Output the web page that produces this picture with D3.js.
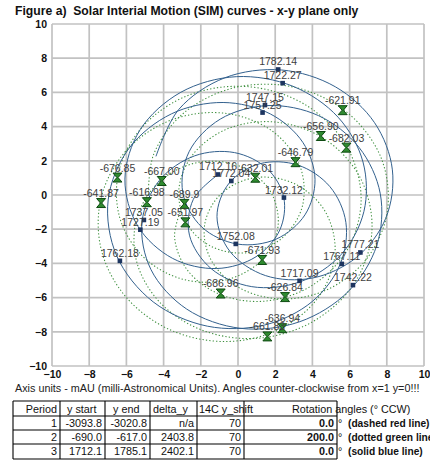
<!DOCTYPE html>
<html>
<head>
<meta charset="utf-8">
<script src="https://cdn.jsdelivr.net/npm/d3@7"></script>
<style>
  body { margin: 0; background: #fff; }
  svg { display: block; }
  text { font-family: "Liberation Sans", Arial, sans-serif; }
</style>
</head>
<body>
<svg id="chart" width="430" height="467"></svg>
<script>
const titleText = "Figure a)  Solar Interial Motion (SIM) curves - x-y plane only";
const noteText = "Axis units - mAU (milli-Astronomical Units). Angles counter-clockwise from x=1 y=0!!!";

const xTicks = [-10, -8, -6, -4, -2, 0, 2, 4, 6, 8, 10];
const yTicks = [-10, -8, -6, -4, -2, 0, 2, 4, 6, 8, 10];

// Period 3 (1712.1 - 1785.1), one position per year, mAU — solid blue line
const blueX = [
  -1.03, -2.40, -2.61, -1.45, 0.74, 3.33, 5.54, 6.77, 6.72, 5.38,
  2.95, -0.09, -3.07, -5.26, -6.08, -5.38, -3.51, -1.14, 0.97, 2.25,
  2.46, 1.57, -0.19, -2.33, -4.22, -5.16, -4.68, -2.76, 0.16, 3.32,
  5.93, 7.46, 7.65, 6.51, 4.33, 1.61, -0.95, -2.63, -2.97, -1.95,
  -0.03, 2.05, 3.60, 4.14, 3.49, 1.74, -0.80, -3.57, -5.86, -6.98,
  -6.52, -4.56, -1.65, 1.44, 3.99, 5.50, 5.80, 4.94, 3.22, 1.18,
  -0.48, -1.13, -0.42, 1.47, 3.99, 6.37, 7.94, 8.30, 7.34, 5.23,
  2.34, -0.72, -3.18, -4.41
];
const blueY = [
  1.23, -0.25, -2.35, -4.30, -5.36, -5.08, -3.49, -0.96, 1.93, 4.55,
  6.36, 6.92, 6.01, 3.82, 0.93, -1.83, -3.71, -4.30, -3.61, -2.04,
  -0.14, 1.54, 2.48, 2.29, 0.86, -1.57, -4.36, -6.67, -7.80, -7.41,
  -5.64, -2.95, 0.07, 2.78, 4.64, 5.23, 4.44, 2.53, 0.15, -1.87,
  -2.87, -2.58, -1.16, 0.92, 3.07, 4.74, 5.41, 4.75, 2.73, -0.29,
  -3.56, -6.25, -7.67, -7.60, -6.23, -4.03, -1.60, 0.49, 1.75, 1.83,
  0.69, -1.26, -3.32, -4.71, -4.86, -3.65, -1.37, 1.47, 4.23, 6.33,
  7.31, 6.85, 5.01, 2.26
];

// Period 2 (-690.0 - -617.0), one position per year, rotated 200° — dotted green line
const greenX = [
  -2.92, -3.41, -2.73, -1.00, 1.40, 3.92, 5.87, 6.62, 5.82, 3.60,
  0.50, -2.65, -5.11, -6.40, -6.36, -5.11, -3.03, -0.69, 1.25, 2.15,
  1.72, 0.10, -2.13, -4.19, -5.43, -5.45, -4.20, -1.89, 1.05, 4.00,
  6.25, 7.20, 6.59, 4.65, 1.99, -0.59, -2.43, -3.18, -2.78, -1.43,
  0.47, 2.31, 3.44, 3.36, 1.90, -0.61, -3.48, -5.93, -7.33, -7.37,
  -6.06, -3.68, -0.69, 2.23, 4.37, 5.22, 4.63, 2.94, 0.83, -0.93,
  -1.79, -1.49, -0.08, 2.15, 4.68, 6.86, 8.02, 7.71, 5.88, 2.99,
  -0.21, -2.91, -4.54, -4.83
];
const greenY = [
  -0.47, -2.41, -4.38, -5.80, -6.21, -5.33, -3.21, -0.22, 2.89, 5.29,
  6.34, 5.84, 4.02, 1.42, -1.32, -3.60, -4.91, -4.98, -3.83, -1.85,
  0.25, 1.68, 1.91, 0.81, -1.31, -3.89, -6.28, -7.92, -8.38, -7.42,
  -5.17, -2.12, 0.97, 3.28, 4.27, 3.86, 2.36, 0.32, -1.64, -3.01,
  -3.38, -2.57, -0.74, 1.60, 3.69, 4.77, 4.43, 2.69, -0.04, -3.12,
  -5.92, -7.87, -8.57, -7.85, -5.91, -3.31, -0.86, 0.71, 1.00, 0.05,
  -1.72, -3.71, -5.33, -6.07, -5.59, -3.81, -1.03, 2.13, 4.82, 6.31,
  6.27, 4.80, 2.36, -0.41
];

// Dated points along each curve
const blueMarkLabels = ["1712.16", "1717.09", "1722.27", "1727.19", "1732.12", "1737.05", "1742.22",
  "1747.15", "1752.08", "1757.25", "1762.18", "1767.11", "1772.04", "1777.21", "1782.14"];
const blueMarkX = [-1.07, 3.31, 2.40, -5.25, 2.47, -5.06, 6.18, 1.45, -0.12, 1.32, -6.35, 5.58, -0.36, 6.58, 2.16];
const blueMarkY = [1.20, -5.02, 6.54, -2.03, -0.15, -1.46, -5.27, 5.26, -2.86, 4.82, -3.85, -4.03, 0.82, -3.36, 7.34];

const greenMarkLabels = ["-689.9", "-686.96", "-682.03", "-676.85", "-671.93", "-667.00", "-661.83", "-656.90",
  "-651.97", "-646.79", "-641.87", "-636.94", "-632.01", "-626.84", "-621.91", "-616.98"];
const greenMarkX = [-2.88, -0.93, 5.83, -6.48, 1.30, -4.10, 1.58, 4.45, -2.83, 3.09, -7.36, 2.38, 0.93, 2.53, 5.63, -4.90];
const greenMarkY = [-0.52, -5.76, 2.77, 1.02, -3.80, 0.82, -8.27, 3.45, -1.60, 1.92, -0.47, -7.79, 1.01, -5.97, 4.96, -0.42];

// Period table
const tableHeader = ["Period", "y start", "y end", "delta_y", "14C y_shift", "Rotation angles (° CCW)"];
const periods = ["1", "2", "3"];
const yStart = ["-3093.8", "-690.0", "1712.1"];
const yEnd = ["-3020.8", "-617.0", "1785.1"];
const deltaY = ["n/a", "2403.8", "2402.1"];
const shift14C = ["70", "70", "70"];
const rotationDeg = ["0.0", "200.0", "0.0"];
const lineNames = ["(dashed red line)", "(dotted green line)", "(solid blue line)"];

const svg = d3.select("#chart");
svg.append("rect").attr("width", 430).attr("height", 467).attr("fill", "#fff");

const x = d3.scaleLinear().domain([-10, 10]).range([52, 424]);
const y = d3.scaleLinear().domain([-10, 10]).range([366, 24]);

// title (keeps the double space after "a)")
svg.append("text").attr("x", 15).attr("y", 15)
  .attr("font-size", 12.2).attr("font-weight", "bold").attr("fill", "#111")
  .style("white-space", "pre")
  .text(titleText);

// grid
const grid = svg.append("g").attr("stroke", "#c2c2c2").attr("stroke-width", 1.7);
grid.selectAll("line.v").data(xTicks).join("line").attr("class", "v")
  .attr("x1", d => x(d)).attr("x2", d => x(d)).attr("y1", y(10)).attr("y2", y(-10));
grid.selectAll("line.h").data(yTicks).join("line").attr("class", "h")
  .attr("y1", d => y(d)).attr("y2", d => y(d)).attr("x1", x(-10)).attr("x2", x(10));

// axes
const axX = svg.append("g").attr("transform", `translate(0,${y(-10)})`)
  .call(d3.axisBottom(x).tickValues(xTicks).tickSize(0).tickPadding(5));
const axY = svg.append("g").attr("transform", `translate(${x(-10)},0)`)
  .call(d3.axisLeft(y).tickValues(yTicks).tickSize(0).tickPadding(5));
[axX, axY].forEach(a => {
  a.select(".domain").remove();
  a.selectAll("text").attr("font-size", 10.5).attr("font-weight", "bold").attr("fill", "#111")
    .attr("font-family", "'Liberation Sans', Arial, sans-serif");
});

// curves
const line = d3.line().x(d => x(d[0])).y(d => y(d[1])).curve(d3.curveCatmullRom.alpha(0.5));
svg.append("path").datum(d3.zip(greenX, greenY)).attr("d", line)
  .attr("fill", "none").attr("stroke", "#3d8f3d").attr("stroke-width", 1.05)
  .attr("stroke-dasharray", "1.3,2.1");
svg.append("path").datum(d3.zip(blueX, blueY)).attr("d", line)
  .attr("fill", "none").attr("stroke", "#33618e").attr("stroke-width", 1);

// markers
const hourglass = "M-4.5,-4.5L4.5,-4.5L0.6,0L4.5,4.5L-4.5,4.5L-0.6,0Z";
const greenPts = greenMarkLabels.map((l, i) => ({ l, x: greenMarkX[i], y: greenMarkY[i] }));
const bluePts = blueMarkLabels.map((l, i) => ({ l, x: blueMarkX[i], y: blueMarkY[i] }));

svg.append("g").selectAll("path").data(greenPts).join("path")
  .attr("transform", d => `translate(${x(d.x)},${y(d.y)})`)
  .attr("d", hourglass).attr("fill", "#2f8a2f").attr("stroke", "#0e4a12").attr("stroke-width", 1);
svg.append("g").selectAll("rect").data(bluePts).join("rect")
  .attr("x", d => x(d.x) - 2.3).attr("y", d => y(d.y) - 2.3)
  .attr("width", 4.6).attr("height", 4.6).attr("fill", "#1d3560");

// labels
const lab = svg.append("g").attr("font-size", 10.5).attr("fill", "#404040").attr("text-anchor", "middle");
lab.selectAll("text.g").data(greenPts).join("text").attr("class", "g")
  .attr("x", d => x(d.x)).attr("y", d => y(d.y) - 6).text(d => d.l);
lab.selectAll("text.b").data(bluePts).join("text").attr("class", "b")
  .attr("x", d => x(d.x)).attr("y", d => y(d.y) - 4).text(d => d.l);

// note line
svg.append("text").attr("x", 15).attr("y", 392).attr("font-size", 10.8).attr("fill", "#222")
  .text(noteText);

// table
const colX = [13, 60, 105, 150, 197, 244, 337];
const rowY = [401, 416, 430, 444, 459];
const tb = svg.append("g");
const tl = tb.append("g").attr("stroke", "#000").attr("stroke-width", 1.1);
colX.forEach(cx => tl.append("line").attr("x1", cx).attr("x2", cx).attr("y1", rowY[0]).attr("y2", rowY[4]));
rowY.forEach(ry => tl.append("line").attr("x1", colX[0]).attr("x2", colX[6]).attr("y1", ry).attr("y2", ry));

const tt = tb.append("g").attr("font-size", 10.8).attr("fill", "#111");
const headBase = 413;
tt.append("text").attr("x", 57).attr("y", headBase).attr("text-anchor", "end").text(tableHeader[0]);
tt.append("text").attr("x", 67).attr("y", headBase).text(tableHeader[1]);
tt.append("text").attr("x", 113).attr("y", headBase).text(tableHeader[2]);
tt.append("text").attr("x", 153).attr("y", headBase).text(tableHeader[3]);
tt.append("text").attr("x", 199).attr("y", headBase).text(tableHeader[4]);
tt.append("text").attr("x", 292).attr("y", headBase).text(tableHeader[5]);

const rowBase = [427, 441, 455];
periods.forEach((p, i) => {
  const by = rowBase[i];
  tt.append("text").attr("x", 57).attr("y", by).attr("text-anchor", "end").text(p);
  tt.append("text").attr("x", 102).attr("y", by).attr("text-anchor", "end").text(yStart[i]);
  tt.append("text").attr("x", 147).attr("y", by).attr("text-anchor", "end").text(yEnd[i]);
  tt.append("text").attr("x", 194).attr("y", by).attr("text-anchor", "end").text(deltaY[i]);
  tt.append("text").attr("x", 241).attr("y", by).attr("text-anchor", "end").text(shift14C[i]);
  tt.append("text").attr("x", 334).attr("y", by).attr("text-anchor", "end")
    .attr("font-weight", "bold").text(rotationDeg[i]);
  tt.append("text").attr("x", 338).attr("y", by).text("°");
  tt.append("text").attr("x", 348).attr("y", by).attr("font-weight", "bold")
    .attr("font-size", 10.2).text(lineNames[i]);
});
</script>
</body>
</html>
